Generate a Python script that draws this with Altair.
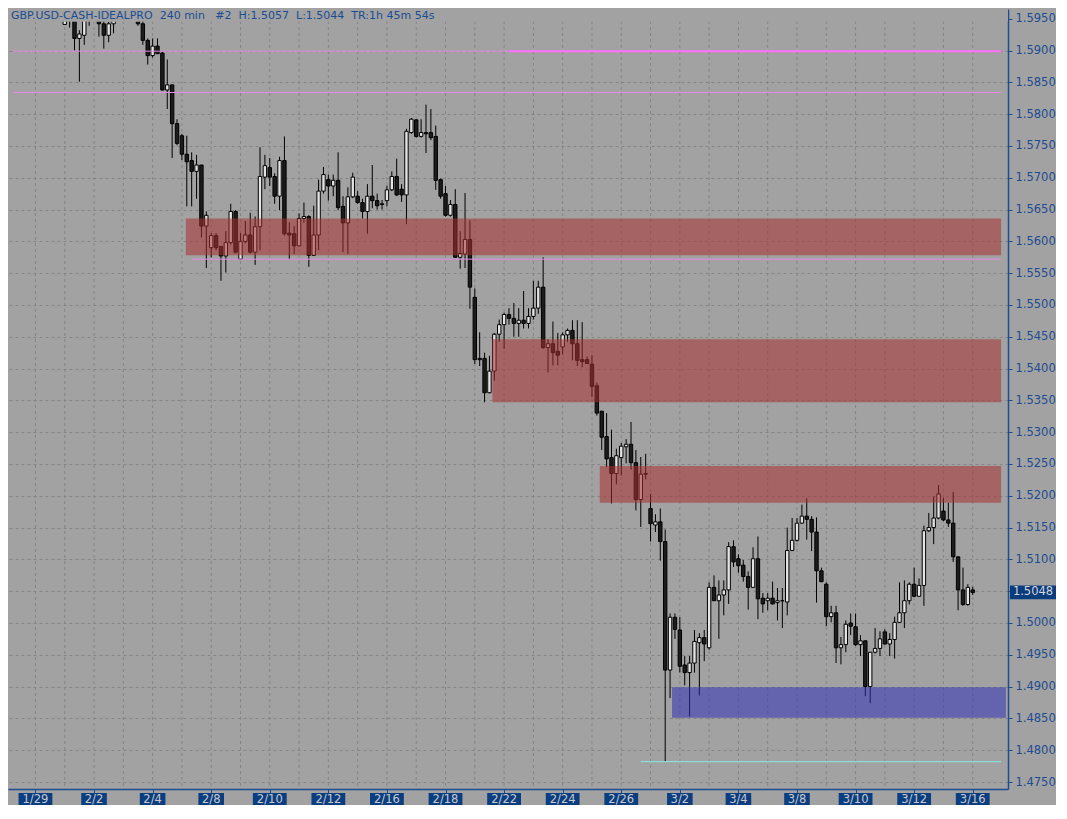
import altair as alt
import pandas as pd

# ---------------- data (GBP.USD 240 min bars) ----------------
FIRST_BAR = 10

opens = [
    1.5941, 1.5978, 1.5958, 1.5919, 1.5924, 1.5958, 1.5973, 1.5953, 1.5942, 1.5924,
    1.5942, 1.5953, 1.5965, 1.5978, 1.5968, 1.5953, 1.5942, 1.5916, 1.5892, 1.5907,
    1.5896, 1.5838, 1.5846, 1.5785, 1.5766, 1.5737, 1.5727, 1.5710, 1.5720, 1.5624,
    1.5590, 1.5609, 1.5592, 1.5577, 1.5598, 1.5647, 1.5572, 1.5600, 1.5610, 1.5583,
    1.5623, 1.5701, 1.5716, 1.5702, 1.5671, 1.5727, 1.5613, 1.5612, 1.5593, 1.5636,
    1.5639, 1.5578, 1.5610, 1.5679, 1.5697, 1.5687, 1.5696, 1.5655, 1.5629, 1.5670,
    1.5671, 1.5661, 1.5647, 1.5671, 1.5664, 1.5659, 1.5664, 1.5681, 1.5702, 1.5682,
    1.5673, 1.5771, 1.5791, 1.5765, 1.5771, 1.5771, 1.5765, 1.5697, 1.5675, 1.5641,
    1.5658, 1.5575, 1.5580, 1.5603, 1.5512, 1.5416, 1.5416, 1.5362, 1.5396, 1.5454,
    1.5469, 1.5485, 1.5479, 1.5471, 1.5476, 1.5471, 1.5482, 1.5495, 1.5528, 1.5433,
    1.5439, 1.5427, 1.5434, 1.5453, 1.5460, 1.5439, 1.5414, 1.5414, 1.5407, 1.5373,
    1.5333, 1.5293, 1.5260, 1.5235, 1.5260, 1.5277, 1.5281, 1.5252, 1.5194, 1.5235,
    1.5180, 1.5154, 1.5159, 1.5128, 1.4926, 1.5009, 1.4989, 1.4934, 1.4922, 1.4937,
    1.4969, 1.4977, 1.4961, 1.5056, 1.5035, 1.5044, 1.5052, 1.5120, 1.5101, 1.5091,
    1.5073, 1.5056, 1.5101, 1.5039, 1.5035, 1.5039, 1.5032, 1.5035, 1.5033, 1.5114,
    1.5130, 1.5157, 1.5168, 1.5163, 1.5143, 1.5082, 1.5061, 1.5010, 1.5016, 1.4961,
    1.4966, 1.5000, 1.4994, 1.4966, 1.4972, 1.4900, 1.4954, 1.4960, 1.4986, 1.4967,
    1.4974, 1.5001, 1.5016, 1.5035, 1.5061, 1.5042, 1.5059, 1.5145, 1.5150, 1.5165,
    1.5176, 1.5162, 1.5157, 1.5104, 1.5052, 1.5029, 1.5052,
]
highs = [
    1.5973, 1.5984, 1.5965, 1.5932, 1.5965, 1.5981, 1.5988, 1.5965, 1.5950, 1.5945,
    1.5965, 1.5973, 1.5984, 1.5984, 1.5974, 1.5965, 1.5947, 1.5919, 1.5919, 1.5919,
    1.5898, 1.5886, 1.5846, 1.5792, 1.5769, 1.5766, 1.5740, 1.5736, 1.5720, 1.5647,
    1.5613, 1.5613, 1.5592, 1.5616, 1.5659, 1.5649, 1.5613, 1.5632, 1.5645, 1.5639,
    1.5748, 1.5736, 1.5731, 1.5707, 1.5733, 1.5765, 1.5630, 1.5624, 1.5644, 1.5661,
    1.5641, 1.5656, 1.5697, 1.5717, 1.5705, 1.5705, 1.5740, 1.5671, 1.5685, 1.5708,
    1.5679, 1.5667, 1.5690, 1.5720, 1.5675, 1.5665, 1.5687, 1.5710, 1.5730, 1.5690,
    1.5777, 1.5794, 1.5792, 1.5792, 1.5815, 1.5808, 1.5782, 1.5699, 1.5687, 1.5665,
    1.5682, 1.5616, 1.5676, 1.5633, 1.5526, 1.5457, 1.5425, 1.5420, 1.5456, 1.5477,
    1.5488, 1.5495, 1.5503, 1.5495, 1.5522, 1.5495, 1.5538, 1.5538, 1.5575, 1.5446,
    1.5474, 1.5456, 1.5457, 1.5463, 1.5476, 1.5476, 1.5473, 1.5419, 1.5421, 1.5378,
    1.5333, 1.5330, 1.5304, 1.5274, 1.5283, 1.5289, 1.5316, 1.5272, 1.5261, 1.5266,
    1.5203, 1.5171, 1.5180, 1.5147, 1.5015, 1.5015, 1.5009, 1.4948, 1.4948, 1.4989,
    1.4984, 1.4989, 1.5064, 1.5075, 1.5067, 1.5067, 1.5127, 1.5130, 1.5108, 1.5099,
    1.5081, 1.5119, 1.5136, 1.5047, 1.5047, 1.5065, 1.5055, 1.5055, 1.5150, 1.5165,
    1.5165, 1.5186, 1.5196, 1.5168, 1.5166, 1.5087, 1.5064, 1.5027, 1.5027, 1.4978,
    1.5004, 1.5015, 1.5015, 1.4981, 1.4972, 1.4954, 1.4992, 1.4987, 1.4990, 1.4984,
    1.5010, 1.5064, 1.5067, 1.5064, 1.5087, 1.5070, 1.5153, 1.5173, 1.5199, 1.5217,
    1.5197, 1.5189, 1.5206, 1.5104, 1.5087, 1.5061, 1.5057,
]
lows = [
    1.5941, 1.5936, 1.5900, 1.5851, 1.5909, 1.5939, 1.5953, 1.5922, 1.5903, 1.5913,
    1.5927, 1.5950, 1.5958, 1.5956, 1.5948, 1.5939, 1.5909, 1.5878, 1.5889, 1.5895,
    1.5837, 1.5808, 1.5731, 1.5751, 1.5728, 1.5655, 1.5655, 1.5667, 1.5606, 1.5558,
    1.5575, 1.5586, 1.5538, 1.5551, 1.5595, 1.5581, 1.5571, 1.5597, 1.5581, 1.5563,
    1.5586, 1.5682, 1.5687, 1.5659, 1.5649, 1.5609, 1.5572, 1.5580, 1.5592, 1.5629,
    1.5560, 1.5577, 1.5586, 1.5675, 1.5664, 1.5671, 1.5649, 1.5583, 1.5580, 1.5668,
    1.5659, 1.5636, 1.5612, 1.5652, 1.5650, 1.5650, 1.5655, 1.5679, 1.5671, 1.5662,
    1.5627, 1.5769, 1.5763, 1.5763, 1.5739, 1.5759, 1.5681, 1.5667, 1.5639, 1.5639,
    1.5574, 1.5557, 1.5558, 1.5494, 1.5407, 1.5404, 1.5347, 1.5361, 1.5381, 1.5442,
    1.5431, 1.5469, 1.5450, 1.5450, 1.5463, 1.5463, 1.5477, 1.5486, 1.5431, 1.5394,
    1.5405, 1.5405, 1.5422, 1.5442, 1.5413, 1.5404, 1.5402, 1.5407, 1.5355, 1.5326,
    1.5272, 1.5245, 1.5188, 1.5218, 1.5232, 1.5251, 1.5241, 1.5177, 1.5151, 1.5226,
    1.5128, 1.5143, 1.5098, 1.4782, 1.4882, 1.4975, 1.4922, 1.4902, 1.4853, 1.4922,
    1.4886, 1.4940, 1.4958, 1.5035, 1.4975, 1.5012, 1.5030, 1.5088, 1.5079, 1.5065,
    1.5021, 1.5055, 1.5006, 1.5016, 1.5020, 1.5029, 1.5004, 1.4992, 1.5012, 1.5113,
    1.5128, 1.5156, 1.5131, 1.5113, 1.5032, 1.5064, 1.4995, 1.5001, 1.4937, 1.4935,
    1.4954, 1.4981, 1.4964, 1.4948, 1.4885, 1.4874, 1.4952, 1.4948, 1.4966, 1.4948,
    1.4944, 1.5000, 1.4992, 1.5029, 1.5041, 1.5041, 1.5027, 1.5143, 1.5124, 1.5163,
    1.5160, 1.5151, 1.5096, 1.5020, 1.5027, 1.5027, 1.5044,
]
closes = [
    1.5961, 1.5958, 1.5919, 1.5926, 1.5958, 1.5973, 1.5981, 1.5942, 1.5924, 1.5942,
    1.5953, 1.5965, 1.5978, 1.5968, 1.5953, 1.5942, 1.5916, 1.5892, 1.5907, 1.5895,
    1.5838, 1.5846, 1.5785, 1.5754, 1.5737, 1.5725, 1.5710, 1.5720, 1.5624, 1.5641,
    1.5609, 1.5590, 1.5577, 1.5598, 1.5647, 1.5583, 1.5600, 1.5610, 1.5583, 1.5623,
    1.5702, 1.5719, 1.5701, 1.5671, 1.5727, 1.5612, 1.5610, 1.5593, 1.5636, 1.5639,
    1.5578, 1.5610, 1.5679, 1.5705, 1.5687, 1.5696, 1.5653, 1.5629, 1.5670, 1.5701,
    1.5661, 1.5647, 1.5671, 1.5664, 1.5656, 1.5658, 1.5681, 1.5702, 1.5673, 1.5673,
    1.5773, 1.5792, 1.5765, 1.5771, 1.5769, 1.5763, 1.5696, 1.5671, 1.5641, 1.5658,
    1.5575, 1.5581, 1.5603, 1.5528, 1.5414, 1.5414, 1.5362, 1.5396, 1.5454, 1.5469,
    1.5485, 1.5479, 1.5471, 1.5476, 1.5471, 1.5482, 1.5495, 1.5528, 1.5433, 1.5439,
    1.5425, 1.5421, 1.5453, 1.5460, 1.5439, 1.5413, 1.5411, 1.5408, 1.5372, 1.5330,
    1.5292, 1.5258, 1.5235, 1.5263, 1.5278, 1.5281, 1.5252, 1.5194, 1.5234, 1.5234,
    1.5156, 1.5159, 1.5128, 1.4926, 1.5009, 1.4990, 1.4932, 1.4922, 1.4937, 1.4971,
    1.4977, 1.4967, 1.5056, 1.5035, 1.5044, 1.5052, 1.5120, 1.5096, 1.5090, 1.5073,
    1.5056, 1.5101, 1.5038, 1.5030, 1.5039, 1.5030, 1.5035, 1.5035, 1.5114, 1.5130,
    1.5157, 1.5168, 1.5163, 1.5143, 1.5082, 1.5065, 1.5010, 1.5016, 1.4961, 1.4966,
    1.4998, 1.4995, 1.4966, 1.4972, 1.4900, 1.4954, 1.4960, 1.4975, 1.4967, 1.4974,
    1.5001, 1.5016, 1.5035, 1.5061, 1.5042, 1.5059, 1.5145, 1.5150, 1.5165, 1.5203,
    1.5162, 1.5157, 1.5104, 1.5052, 1.5029, 1.5056, 1.5048,
]

# date labels (every second trading day) and their bar positions
date_labels = ["1/29", "2/2", "2/4", "2/8", "2/10", "2/12", "2/16", "2/18", "2/22",
               "2/24", "2/26", "3/2", "3/4", "3/8", "3/10", "3/12", "3/16"]
date_bars = [4, 16, 28, 40, 52, 64, 76, 88, 100, 112, 124, 136, 148, 160, 172, 184, 196]
day_bars = [4, 10, 16, 22, 28, 34, 40, 46, 52, 58, 64, 70, 76, 82, 88, 94, 100, 106,
            112, 118, 124, 130, 136, 142, 148, 154, 160, 166, 172, 178, 184, 190, 196]

price_ticks = [1.4750, 1.4800, 1.4850, 1.4900, 1.4950, 1.5000, 1.5050, 1.5100, 1.5150,
               1.5200, 1.5250, 1.5300, 1.5350, 1.5400, 1.5450, 1.5500, 1.5550, 1.5600,
               1.5650, 1.5700, 1.5750, 1.5800, 1.5850, 1.5900, 1.5950]

# supply zones (red) and demand zone (blue)
supply_top = [1.5636, 1.5446, 1.5247]
supply_bottom = [1.5578, 1.5347, 1.5189]
supply_start = [34.8, 97.6, 119.6]
supply_end = [201.8, 201.8, 201.8]
demand_top = [1.4899]
demand_bottom = [1.4851]
demand_start = [134.4]
demand_end = [202.8]

# horizontal reference lines
pink_levels = [1.5899, 1.5834, 1.5572]
pink_start = [-0.6, -0.6, 36.0]
pink_end = [201.8, 201.8, 201.8]
bright_level = [1.5899]
bright_start = [101.0]
bright_end = [201.8]
cyan_level = [1.4782]
cyan_start = [128.0]
cyan_end = [201.8]

last_price = [1.5048]
title_text = ("GBP.USD-CASH-IDEALPRO\u00a0\u00a0240 min\u00a0\u00a0\u00a0#2\u00a0\u00a0H:1.5057"
              "\u00a0\u00a0L:1.5044\u00a0\u00a0TR:1h 45m 54s")

# ---------------- styling ----------------
W, H = 1000, 780
BG = "#a2a2a2"
BLUE = "#1c4c92"
GRID = "#858585"
FONT = "DejaVu Sans"

bars = list(range(FIRST_BAR, FIRST_BAR + len(opens)))
df = pd.DataFrame({"bar": bars, "open": opens, "high": highs, "low": lows, "close": closes})
df["dir"] = ["up" if c > o else "down" for o, c in zip(opens, closes)]

xs = alt.Scale(domain=[-0.6, 202.2], nice=False, zero=False)
ys = alt.Scale(domain=[1.4739, 1.59653], nice=False, zero=False)

# the last-price box sits over the 1.5050 label, as in the original platform
hide_expr = ("abs(datum.value - %.4f) < 0.0026 ? '' : format(datum.value, '.4f')"
             % last_price[0])

x_axis = alt.Axis(values=date_bars, labels=False, ticks=True, tickSize=4, tickColor=BLUE,
                  domainColor=BLUE, domainWidth=1.5, grid=False, title=None)
y_axis = alt.Axis(values=price_ticks, labelExpr=hide_expr, orient="right", grid=True,
                  gridDash=[3, 3], gridColor=GRID, gridWidth=1, tickSize=4, tickColor=BLUE,
                  labelPadding=3, labelColor=BLUE, labelFont=FONT, labelFontSize=11.5,
                  domainColor=BLUE, domainWidth=1.5, title=None)


def X(field):
    return alt.X(field, scale=xs, axis=x_axis)


def Y(field):
    return alt.Y(field, scale=ys, axis=y_axis)


grid_v = alt.Chart(pd.DataFrame({"bar": day_bars})).mark_rule(
    color=GRID, strokeDash=[3, 3], strokeWidth=1
).encode(x=X("bar:Q"))

wicks = alt.Chart(df).mark_rule(color="#000000", strokeWidth=1, clip=True).encode(
    x=X("bar:Q"), y=Y("low:Q"), y2="high:Q",
)

bodies = alt.Chart(df).mark_bar(size=3.4, stroke="#000000", strokeWidth=1, clip=True).encode(
    x=X("bar:Q"), y=Y("open:Q"), y2="close:Q",
    color=alt.Color("dir:N", scale=alt.Scale(domain=["up", "down"], range=["#e4e4e4", "#1c1c1c"]),
                    legend=None),
)

supply = alt.Chart(pd.DataFrame({"top": supply_top, "bottom": supply_bottom,
                                 "start": supply_start, "end": supply_end})).mark_rect(
    color="#aa3030", opacity=0.55
).encode(x=X("start:Q"), x2="end:Q", y=Y("top:Q"), y2="bottom:Q")

demand = alt.Chart(pd.DataFrame({"top": demand_top, "bottom": demand_bottom,
                                 "start": demand_start, "end": demand_end})).mark_rect(
    color="#3232b8", opacity=0.55
).encode(x=X("start:Q"), x2="end:Q", y=Y("top:Q"), y2="bottom:Q")

pink = alt.Chart(pd.DataFrame({"lvl": pink_levels, "s": pink_start, "e": pink_end})).mark_rule(
    color="#e78ae7", strokeWidth=1
).encode(x=X("s:Q"), x2="e:Q", y=Y("lvl:Q"))

bright = alt.Chart(pd.DataFrame({"lvl": bright_level, "s": bright_start, "e": bright_end})).mark_rule(
    color="#ff70ff", strokeWidth=2
).encode(x=X("s:Q"), x2="e:Q", y=Y("lvl:Q"))

cyan = alt.Chart(pd.DataFrame({"lvl": cyan_level, "s": cyan_start, "e": cyan_end})).mark_rule(
    color="#86e8e8", strokeWidth=1
).encode(x=X("s:Q"), x2="e:Q", y=Y("lvl:Q"))

strip = alt.Chart(pd.DataFrame({"a": [0]})).mark_rect(color=BG).encode(
    x=alt.value(0), x2=alt.value(W), y=alt.value(0), y2=alt.value(12.7)
)
title = alt.Chart(pd.DataFrame({"t": [title_text]})).mark_text(
    align="left", baseline="middle", font=FONT, fontSize=11, color=BLUE
).encode(x=alt.value(3), y=alt.value(6.8), text="t:N")

dates_df = pd.DataFrame({"bar": date_bars, "label": date_labels})
date_boxes = alt.Chart(dates_df).transform_calculate(
    w="length(datum.label) * 8.2 + 1"
).mark_bar(color="#0b3e80").encode(
    x=X("bar:Q"),
    y=alt.value(H + 4), y2=alt.value(H + 16),
    size=alt.Size("w:Q", scale=None, legend=None),
)
date_text = alt.Chart(dates_df).mark_text(
    font=FONT, fontSize=11.5, color="#c9c9c9", baseline="middle", align="center"
).encode(x=X("bar:Q"), y=alt.value(H + 10.5), text="label:N")

last_df = pd.DataFrame({"price": last_price, "txt": ["%.4f" % p for p in last_price]})
price_box = alt.Chart(last_df).mark_point(
    shape="M-1,-0.3H1V0.3H-1Z", filled=True, size=2116, color="#0b3c7c", opacity=1, strokeWidth=0
).encode(x=alt.value(W + 25), y=Y("price:Q"))
price_txt = alt.Chart(last_df).mark_text(
    font=FONT, fontSize=11.5, color="#d4d4dc", align="center", baseline="middle"
).encode(x=alt.value(W + 25), y=Y("price:Q"), text="txt:N")

chart = alt.layer(
    grid_v, wicks, bodies, supply, demand, pink, bright, cyan, strip, title,
    date_boxes, date_text, price_box, price_txt
).properties(width=W, height=H).configure(background=BG, padding=0).configure_view(stroke=None)

chart.save("out.html", embed_options={"renderer": "svg", "actions": False})
